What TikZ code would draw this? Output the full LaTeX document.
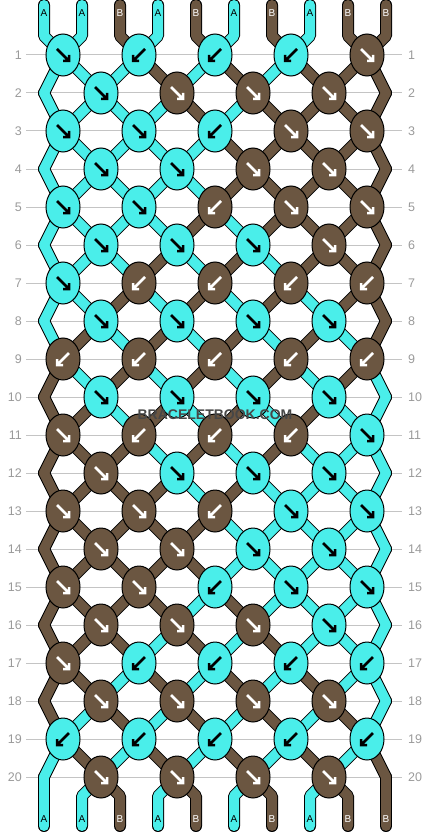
\documentclass[tikz,border=0pt]{standalone}
\usepackage{fontspec}
\setmainfont{Liberation Sans}
\usetikzlibrary{
    shapes.geometric,        % For the elliptic knots
    positioning
}
\definecolor{colA}{HTML}{4AEEEA}
\definecolor{colB}{HTML}{6B5641}
\colorlet{inkA}{black}
\colorlet{inkB}{white}
\definecolor{rulegray}{HTML}{C4C4C4}
\definecolor{numgray}{HTML}{9A9A9A}
\definecolor{markgray}{HTML}{474747}

% x of cord #3 at row #2, stored in #1
\newcommand{\cordx}[3]{%
    \pgfmathsetmacro{#1}{isodd(#2) ? 63+76*floor((#3-1)/2) : ((#3==1) ? 44 : ((#3==10) ? 386 : 25+76*floor(#3/2)))}}

\begin{document}
\begin{tikzpicture}[
    x=1pt, y=-1pt,
    rowline/.style={draw=rulegray, line width=1pt},
    rowno/.style={text=numgray, inner sep=0pt, font=\fontsize{12.5}{14}\selectfont},
    cordline/.style={line width=12pt, black, line cap=round, line join=round},
    cordfill/.style={line width=10pt, col#1, line cap=round, line join=round},
    knot/.style={
        ellipse,
        draw=black,
        line width=1pt,
        minimum width=34pt,
        minimum height=42pt,
        inner sep=0pt
    },
    knotarrow/.style={line width=2.5pt, line join=miter},
    cordlabel/.style={inner sep=0pt, font=\fontsize{10}{12}\selectfont},
    brandmark/.style={text=markgray, inner sep=0pt, font=\bfseries\fontsize{14}{16}\selectfont},
    knotf/.pic={\draw[knotarrow] (-6,-6) -- (5,5) (6,0) -- (6,6) -- (0,6);},
    knotb/.pic={\draw[knotarrow] (6,-6) -- (-5,5) (-6,0) -- (-6,6) -- (0,6);}
]
    \useasboundingbox (0,0) rectangle (430,832);

    % --- Row rules and numbers ---
    \foreach \r in {1,...,20} {
        \pgfmathsetmacro{\y}{17+38*\r}
        \draw[rowline] (26,\y) -- (402,\y);
        \node[rowno, anchor=east] (left\r) at (22,\y) {\r};
        \node[rowno, anchor=west] (right\r) at (408,\y) {\r};
    }

    % --- Cords: outline first, then colour ---
    \foreach \kind in {cordline,cordfill} {
        \foreach \c [count=\p] in {A,A,B,A,B,A,B,A,B,B} {
            \pgfmathsetmacro{\sx}{6+38*\p}
            \cordx{\ta}{1}{\p}
            \cordx{\tb}{20}{\p}
            \draw[\kind=\c] (\sx,5) -- (\sx,36) -- (\ta,55); % top ends
            \draw[\kind=\c] (\tb,777) -- (\sx,796) -- (\sx,826); % bottom ends
        }
        \foreach \r/\s in {
            1/{A,A,A,B,A,B,A,B,B,B},
            2/{A,A,A,A,B,A,B,B,B,B},
            3/{A,A,A,A,A,B,B,B,B,B},
            4/{A,A,A,A,A,B,B,B,B,B},
            5/{A,A,A,A,B,A,B,B,B,B},
            6/{A,A,A,B,A,B,A,B,B,B},
            7/{A,A,B,A,B,A,B,A,B,B},
            8/{A,B,A,B,A,B,A,B,A,B},
            9/{B,A,B,A,B,A,B,A,B,A},
            10/{B,B,A,B,A,B,A,B,A,A},
            11/{B,B,B,A,B,A,B,A,A,A},
            12/{B,B,B,B,A,B,A,A,A,A},
            13/{B,B,B,B,B,A,A,A,A,A},
            14/{B,B,B,B,B,A,A,A,A,A},
            15/{B,B,B,B,A,B,A,A,A,A},
            16/{B,B,B,A,B,A,B,A,A,A},
            17/{B,B,A,B,A,B,A,B,A,A},
            18/{B,A,B,A,B,A,B,A,B,A},
            19/{A,B,A,B,A,B,A,B,A,B}} {
            \pgfmathsetmacro{\ya}{17+38*\r}
            \pgfmathsetmacro{\yb}{55+38*\r}
            \foreach \c [count=\p] in \s {
                \cordx{\xa}{\r}{\p}
                \cordx{\xb}{\r+1}{\p}
                \draw[\kind=\c] (\xa,\ya) -- (\xb,\yb);
            }
        }
    }

    % --- Knots (colour/direction) ---
    \foreach \r/\ks in {
        1/{A/f,A/b,A/b,A/b,B/f},
        2/{A/f,B/f,B/f,B/f},
        3/{A/f,A/f,A/b,B/f,B/f},
        4/{A/f,A/f,B/f,B/f},
        5/{A/f,A/f,B/b,B/f,B/f},
        6/{A/f,A/f,A/f,B/f},
        7/{A/f,B/b,B/b,B/b,B/b},
        8/{A/f,A/f,A/f,A/f},
        9/{B/b,B/b,B/b,B/b,B/b},
        10/{A/f,A/f,A/f,A/f},
        11/{B/f,B/b,B/b,B/b,A/f},
        12/{B/f,A/f,A/f,A/f},
        13/{B/f,B/f,B/b,A/f,A/f},
        14/{B/f,B/f,A/f,A/f},
        15/{B/f,B/f,A/b,A/f,A/f},
        16/{B/f,B/f,B/f,A/f},
        17/{B/f,A/b,A/b,A/b,A/b},
        18/{B/f,B/f,B/f,B/f},
        19/{A/b,A/b,A/b,A/b,A/b},
        20/{B/f,B/f,B/f,B/f}} {
        \pgfmathsetmacro{\ky}{17+38*\r}
        \foreach \c/\d [count=\i] in \ks {
            \pgfmathsetmacro{\kx}{(isodd(\r) ? 63 : 101)+76*(\i-1)}
            \node[knot, fill=col\c] (k\r-\i) at (\kx,\ky) {};
            \pic[color=ink\c] at (k\r-\i) {knot\d};
        }
    }

    % --- Cord letters ---
    \foreach \c [count=\p] in {A,A,B,A,B,A,B,A,B,B} {
        \pgfmathsetmacro{\sx}{6+38*\p}
        \node[cordlabel, text=ink\c] (top\p) at (\sx,13) {\c};
        \node[cordlabel, text=ink\c] (bot\p) at (\sx,819) {\c};
    }

    \node[brandmark] (brand) at (215,415) {BRACELETBOOK.COM};
\end{tikzpicture}
\end{document}
